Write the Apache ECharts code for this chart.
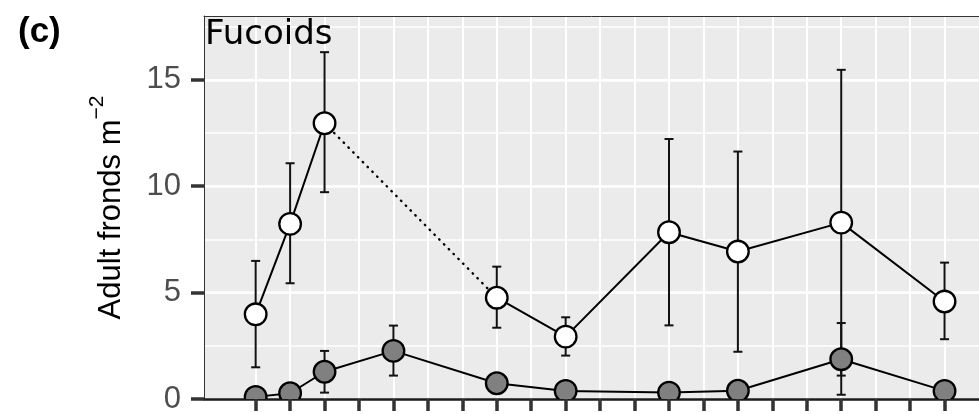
<!DOCTYPE html>
<html>
<head>
<meta charset="utf-8">
<script src="https://cdn.jsdelivr.net/npm/echarts@6/dist/echarts.min.js"></script>
<style>
  html, body {margin: 0; padding: 0; background: #fff;}
  #chart {width: 979px; height: 414px;}
</style>
</head>
<body>
<div id="chart"></div>
<script>
// sampling occasions (x positions on the axis)
const xTicks = [0, 1, 2, 3, 4, 5, 6, 7, 8, 9, 10, 11, 12, 13, 14, 15, 16, 17, 18, 19, 20]
const yTicks = [0, 5, 10, 15]

// open circles
const whiteX = [0, 1, 2, 7, 9, 12, 14, 17, 20]
const whiteMean = [3.98, 8.23, 12.96, 4.76, 2.93, 7.84, 6.93, 8.29, 4.58]
const whiteLow = [1.49, 5.44, 9.72, 3.35, 2.04, 3.46, 2.22, 1.10, 2.81]
const whiteHigh = [6.49, 11.08, 16.30, 6.22, 3.84, 12.22, 11.63, 15.47, 6.41]
// gap in the open series drawn dotted
const dottedSegment = [2, 7]

// filled grey circles
const greyX = [0, 1, 2, 4, 7, 9, 12, 14, 17, 20]
const greyMean = [0.10, 0.27, 1.28, 2.26, 0.74, 0.38, 0.30, 0.39, 1.87, 0.38]
const greyLow = [0.00, 0.10, 0.30, 1.10, 0.50, 0.20, 0.15, 0.20, 0.20, 0.20]
const greyHigh = [0.20, 0.45, 2.26, 3.45, 1.00, 0.55, 0.45, 0.60, 3.57, 0.55]

const rows = (xs, m, lo, hi) => xs.map((x, i) => [x, m[i], lo[i], hi[i]])
const whiteRows = rows(whiteX, whiteMean, whiteLow, whiteHigh)
const greyRows = rows(greyX, greyMean, greyLow, greyHigh)

// solid line for the open series, broken over the dotted gap
const whiteSolid = []
whiteX.forEach((x, i) => {
  whiteSolid.push([x, whiteMean[i]])
  if (x === dottedSegment[0]) whiteSolid.push([x + 0.5, '-'])
})
const whiteDotted = dottedSegment.map(x => [x, whiteMean[whiteX.indexOf(x)]])

const errorBars = (params, api) => {
  const x = api.value(0)
  const lo = api.coord([x, api.value(2)])
  const hi = api.coord([x, api.value(3)])
  const w = 4.5
  const st = {stroke: '#111', lineWidth: 2}
  return {
    type: 'group',
    children: [
      {type: 'line', shape: {x1: lo[0], y1: lo[1], x2: hi[0], y2: hi[1]}, style: st},
      {type: 'line', shape: {x1: hi[0] - w, y1: hi[1], x2: hi[0] + w, y2: hi[1]}, style: st},
      {type: 'line', shape: {x1: lo[0] - w, y1: lo[1], x2: lo[0] + w, y2: lo[1]}, style: st}
    ]
  }
}

const dots = fill => (params, api) => {
  const p = api.coord([api.value(0), api.value(1)])
  return {
    type: 'circle',
    shape: {cx: p[0], cy: p[1], r: 10.8},
    style: {fill: fill, stroke: '#000', lineWidth: 2.3}
  }
}

const chart = echarts.init(document.getElementById('chart'))
chart.setOption({
  animation: false,
  backgroundColor: '#fff',
  title: [
    {
      text: '(c)', left: 18, top: 15, padding: 0,
      textStyle: {fontFamily: 'Liberation Sans', fontWeight: 'bold', fontSize: 35, color: '#000'}
    },
    {
      text: 'Fucoids', left: 205, top: 18, padding: 0,
      textStyle: {fontFamily: 'DejaVu Sans', fontWeight: 'normal', fontSize: 34, color: '#000'}
    }
  ],
  grid: {
    left: 204, right: 0, top: 16, bottom: 15,
    show: true, backgroundColor: '#EBEBEB', borderWidth: 0,
    outerBoundsMode: 'none'
  },
  xAxis: [
    {
      type: 'value', min: -1.5, max: 21, interval: 0.5, position: 'bottom',
      axisLine: {show: true, onZero: false, lineStyle: {color: '#1a1a1a', width: 2.5}},
      axisTick: {show: true, customValues: xTicks, length: 12, lineStyle: {color: '#333', width: 3.5}},
      axisLabel: {show: false},
      splitLine: {show: true, lineStyle: {color: '#fff', width: 2}}
    },
    {
      type: 'value', min: -1.5, max: 21, position: 'top',
      axisLine: {show: true, onZero: false, lineStyle: {color: '#333', width: 1}},
      axisTick: {show: false}, axisLabel: {show: false}, splitLine: {show: false}
    }
  ],
  yAxis: [
    {
      type: 'value', min: 0, max: 18, interval: 5,
      axisLine: {show: true, onZero: false, lineStyle: {color: '#333', width: 1}},
      axisTick: {show: true, customValues: yTicks, length: 13, lineStyle: {color: '#333', width: 3.5}},
      axisLabel: {customValues: yTicks, margin: 23, fontFamily: 'Liberation Sans', fontSize: 31, color: '#4D4D4D'},
      splitLine: {show: true, lineStyle: {color: '#fff', width: 2.5}},
      name: '{a|Adult fronds m}{s|\u22122}',
      nameLocation: 'middle', nameRotate: 90, nameGap: 77,
      nameTextStyle: {
        rich: {
          a: {fontFamily: 'Liberation Sans', fontSize: 31, color: '#000', lineHeight: 40, verticalAlign: 'bottom'},
          s: {fontFamily: 'Liberation Sans', fontSize: 21, color: '#000', lineHeight: 40, verticalAlign: 'top'}
        }
      }
    },
    {
      type: 'value', min: 0, max: 18, interval: 2.5,
      axisLine: {show: false}, axisTick: {show: false}, axisLabel: {show: false},
      splitLine: {show: true, lineStyle: {color: '#fff', width: 1.5}}
    }
  ],
  series: [
    {type: 'custom', name: 'open bars', data: whiteRows, renderItem: errorBars, clip: true, z: 2},
    {type: 'custom', name: 'grey bars', data: greyRows, renderItem: errorBars, clip: true, z: 2},
    {
      type: 'line', data: whiteSolid, symbol: 'none', connectNulls: false, z: 3,
      lineStyle: {color: '#000', width: 2}
    },
    {
      type: 'line', data: whiteDotted, symbol: 'none', z: 3,
      lineStyle: {color: '#000', width: 2.4, type: [0.5, 6.3], cap: 'round'}
    },
    {
      type: 'line', data: greyRows.map(r => [r[0], r[1]]), symbol: 'none', z: 3,
      lineStyle: {color: '#000', width: 2}
    },
    {type: 'custom', name: 'grey', data: greyRows, renderItem: dots('#808080'), clip: true, z: 4},
    {type: 'custom', name: 'open', data: whiteRows, renderItem: dots('#ffffff'), clip: true, z: 4}
  ]
})
</script>
</body>
</html>
